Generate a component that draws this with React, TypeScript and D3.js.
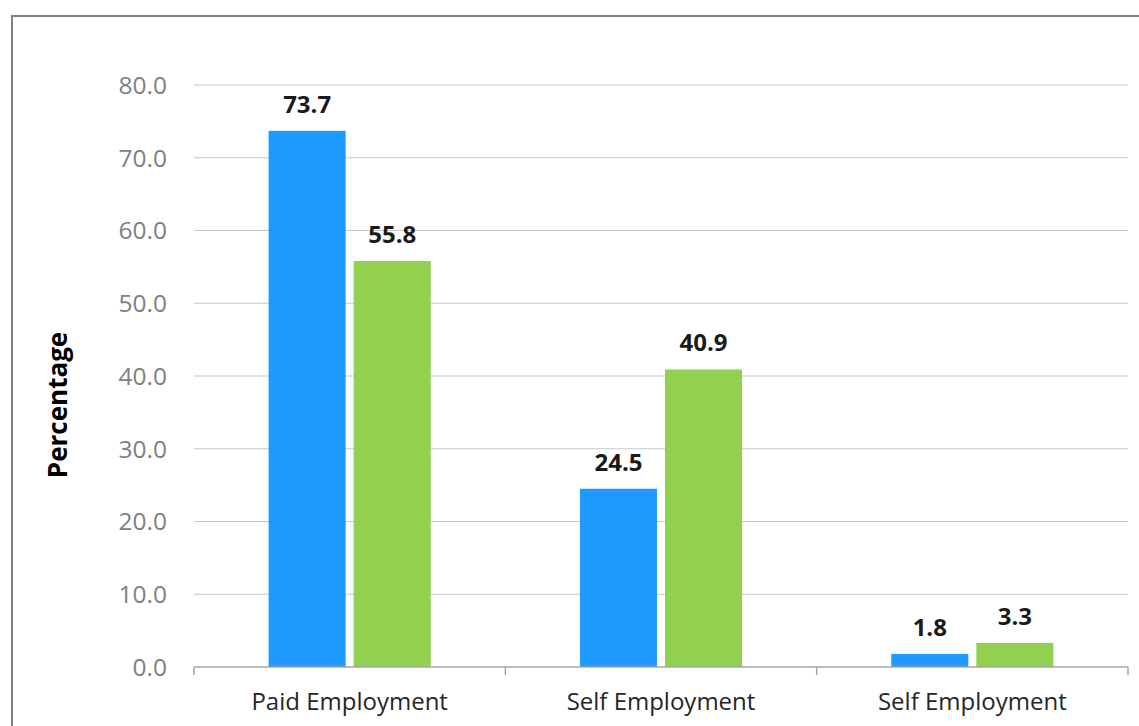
import React from "react";
import * as d3 from "d3";

const categories = ["Paid Employment", "Self Employment", "Self Employment"];
const seriesNames = ["Series 1", "Series 2"];
const series1 = [73.7, 24.5, 1.8];
const series2 = [55.8, 40.9, 3.3];
const yTicks = [0, 10, 20, 30, 40, 50, 60, 70, 80];
const colors = ["#1F9BFF", "#92D050"];

const W = 1139;
const H = 726;
const left = 194;
const right = 1128;
const top = 85;
const bottom = 667;
const font = "'Open Sans', 'DejaVu Sans', sans-serif";

export default function App() {
  const x0 = d3.scaleBand<number>().domain(categories.map((_, i) => i)).range([left, right]).padding(0);
  const x1 = d3
    .scaleBand<string>()
    .domain(seriesNames)
    .range([0, x0.bandwidth()])
    .paddingInner(0.094)
    .paddingOuter(0.877);
  const y = d3.scaleLinear().domain([0, 80]).range([bottom, top]);
  const data = [series1, series2];

  return (
    <svg
      width={W}
      height={H}
      style={{ position: "absolute", left: 0, top: 0, background: "#fff" }}
      fontFamily={font}
    >
      <rect x={0} y={0} width={W} height={H} fill="#fff" />
      {/* frame */}
      <line x1={12} y1={16} x2={W} y2={16} stroke="#808080" strokeWidth={2} />
      <line x1={12} y1={15} x2={12} y2={H} stroke="#808080" strokeWidth={2} />

      {/* gridlines */}
      {yTicks.filter((t) => t > 0).map((t) => (
        <line key={t} x1={left} x2={right} y1={y(t)} y2={y(t)} stroke="#c8c8c8" strokeWidth={1.2} />
      ))}
      {/* y tick labels */}
      {yTicks.map((t) => (
        <text
          key={t}
          x={167}
          y={y(t)}
          dy="0.36em"
          textAnchor="end"
          fontSize={24.5}
          fill="#808080"
        >
          {t.toFixed(1)}
        </text>
      ))}

      {/* bars */}
      {categories.map((c, i) =>
        seriesNames.map((s, j) => {
          const v = data[j][i];
          const bx = (x0(i) as number) + (x1(s) as number);
          return (
            <g key={`${i}-${j}`}>
              <rect x={bx} y={y(v)} width={x1.bandwidth()} height={bottom - y(v)} fill={colors[j]} />
              <text
                x={bx + x1.bandwidth() / 2}
                y={y(v) - 18}
                textAnchor="middle"
                fontSize={24}
                fontWeight="bold"
                fill="#1a1a1a"
              >
                {v.toFixed(1)}
              </text>
            </g>
          );
        })
      )}

      {/* x axis */}
      <line x1={left} x2={right} y1={bottom} y2={bottom} stroke="#a6a6a6" strokeWidth={1.5} />
      {d3.range(categories.length + 1).map((k) => {
        const xx = left + k * x0.step();
        return <line key={k} x1={xx} x2={xx} y1={bottom} y2={bottom + 8} stroke="#a6a6a6" strokeWidth={1.5} />;
      })}
      {categories.map((c, i) => (
        <text
          key={i}
          x={(x0(i) as number) + x0.bandwidth() / 2}
          y={710}
          textAnchor="middle"
          fontSize={24}
          fill="#262626"
        >
          {c}
        </text>
      ))}

      {/* y axis title */}
      <text
        transform={`translate(67, 405) rotate(-90)`}
        textAnchor="middle"
        fontSize={26}
        fontWeight="bold"
        fill="#000"
      >
        Percentage
      </text>
    </svg>
  );
}
